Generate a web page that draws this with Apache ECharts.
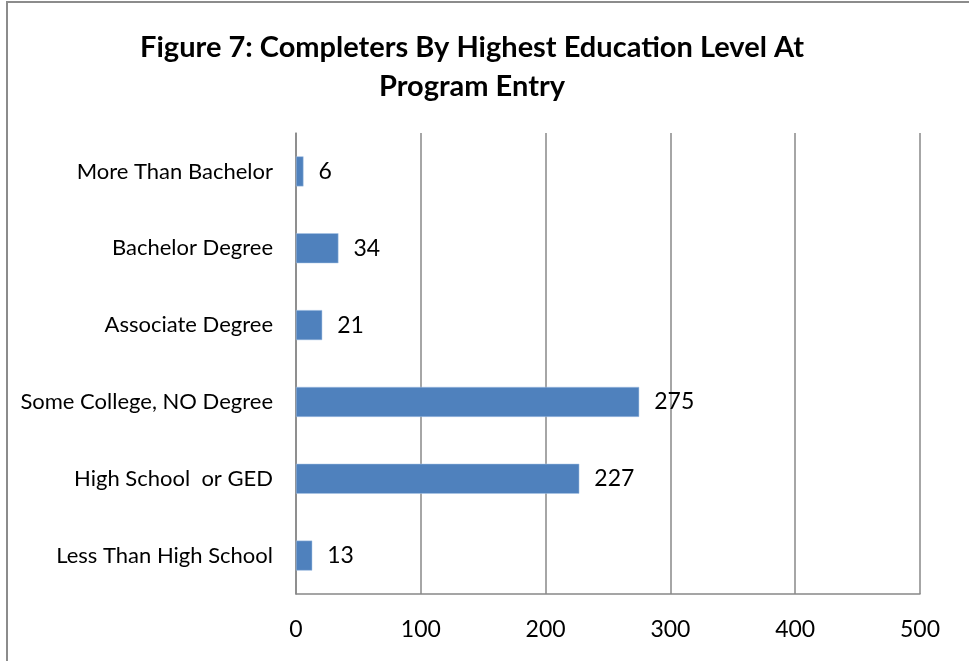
<!DOCTYPE html>
<html>
<head>
<meta charset="utf-8">
<script src="https://cdn.jsdelivr.net/npm/echarts@6/dist/echarts.min.js"></script>
<style>
html,body{margin:0;padding:0;background:#fff;overflow:hidden;}
#frame{position:absolute;left:6px;top:1px;width:1000px;height:700px;border:2px solid #8c8c8c;box-sizing:border-box;}
#chart{position:absolute;left:0;top:0;width:969px;height:661px;}
</style>
</head>
<body>
<div id="frame"></div>
<div id="chart"></div>
<script>
const titleText = 'Figure 7: Completers By Highest Education Level At\nProgram Entry';
const categories = ['Less Than High School', 'High School  or GED', 'Some College, NO Degree', 'Associate Degree', 'Bachelor Degree', 'More Than Bachelor'];
const values = [13, 227, 275, 21, 34, 6];
const xTicks = [0, 100, 200, 300, 400, 500];

const font = 'Lato, "Open Sans", sans-serif';
const chart = echarts.init(document.getElementById('chart'));
chart.setOption({
  backgroundColor: 'transparent',
  animation: false,
  title: {
    text: titleText,
    left: 467, top: 23, textAlign: 'center',
    textStyle: {fontFamily: font, fontWeight: 'bold', fontSize: 29, lineHeight: 39, color: '#000'}
  },
  grid: {left: 296, right: 49, top: 133, bottom: 67, containLabel: false},
  xAxis: {
    type: 'value', min: xTicks[0], max: xTicks[xTicks.length-1], interval: 100,
    axisLine: {show: true, lineStyle: {color: '#888', width: 1.5}},
    axisTick: {show: false},
    splitLine: {show: true, lineStyle: {color: '#888', width: 1.5}},
    axisLabel: {fontFamily: font, fontSize: 23, color: '#000', margin: 24}
  },
  yAxis: {
    type: 'category', data: categories,
    axisLine: {show: true, lineStyle: {color: '#888', width: 1.5}},
    axisTick: {show: false},
    axisLabel: {fontFamily: font, fontSize: 22, color: '#000', margin: 23}
  },
  series: [{
    type: 'bar', data: values, barWidth: 30,
    itemStyle: {color: '#4F81BD', borderColor: '#A9C4E6', borderWidth: 0.5},
    label: {show: true, position: 'right', distance: 15, fontFamily: font, fontSize: 23, color: '#000'}
  }]
});
</script>
</body>
</html>
